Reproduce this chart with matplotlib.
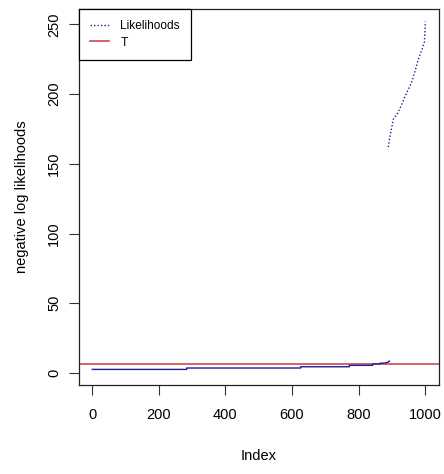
import numpy as np
import matplotlib.pyplot as plt

plt.rcParams['font.family'] = ['Liberation Sans', 'DejaVu Sans']

# lower part of the sorted likelihoods: step levels (index breakpoints, values)
low_idx = [1, 284, 284, 626, 626, 772, 772, 842, 842, 864, 864, 880, 888, 892]
low_val = [2.6, 2.6, 3.6, 3.6, 4.5, 4.5, 5.5, 5.5, 6.5, 6.5, 7.0, 7.2, 7.8, 8.6]

# upper part of the sorted likelihoods
high_idx = [889, 892, 896, 900, 904, 910, 916, 922, 928, 934, 940, 946,
            952, 958, 961, 966, 972, 978, 985, 990, 994, 997, 999, 1000]
high_val = [162, 167, 172, 177, 182, 184, 186, 189, 192, 195.5, 199, 202,
            205, 208, 210, 214, 219, 224, 229, 232, 235, 237, 245, 252]

T = 6.4
like_color = '#1c1c9c'
t_color = '#d24848'

fig = plt.figure(figsize=(4.44, 4.74), dpi=100)
ax = fig.add_axes([0.178, 0.188, 0.810, 0.793])

ax.axhline(T, color=t_color, linewidth=1.2, label='T', zorder=1)
ax.plot(low_idx, low_val, color=like_color, linewidth=1.0, zorder=2)
ax.plot(high_idx, high_val, color=like_color, linewidth=1.0,
        linestyle=(0, (1, 1.5)), zorder=2)
h_like, = ax.plot([], [], color=like_color, linewidth=1.0,
                  linestyle=(0, (1, 1.5)), label='Likelihoods')

ax.set_xlim(-39, 1040)
ax.set_ylim(-8.5, 261)
ax.set_xticks([0, 200, 400, 600, 800, 1000])
ax.set_yticks([0, 50, 100, 150, 200, 250])
ax.tick_params(axis='both', length=7, width=0.8, labelsize=10.5, color='#333333')
ax.tick_params(axis='x', pad=10)
ax.tick_params(axis='y', pad=6)
for lbl in ax.get_yticklabels():
    lbl.set_rotation(90)
    lbl.set_va('center')
for s in ax.spines.values():
    s.set_linewidth(0.9)
    s.set_color('#222222')

ax.set_xlabel('Index', fontsize=10.5, labelpad=19)
ax.set_ylabel('negative log likelihoods', fontsize=10.5, labelpad=13)

handles = [h_like, ax.get_lines()[0]]
leg = ax.legend(handles=handles, labels=['Likelihoods', 'T'], loc='upper left',
                fancybox=False, framealpha=1, edgecolor='black',
                borderaxespad=0, fontsize=8.6, handlelength=1.6,
                labelspacing=0.35, borderpad=0.95, handletextpad=0.9)
leg.get_frame().set_linewidth(0.9)

plt.savefig('out.png', dpi=100)
